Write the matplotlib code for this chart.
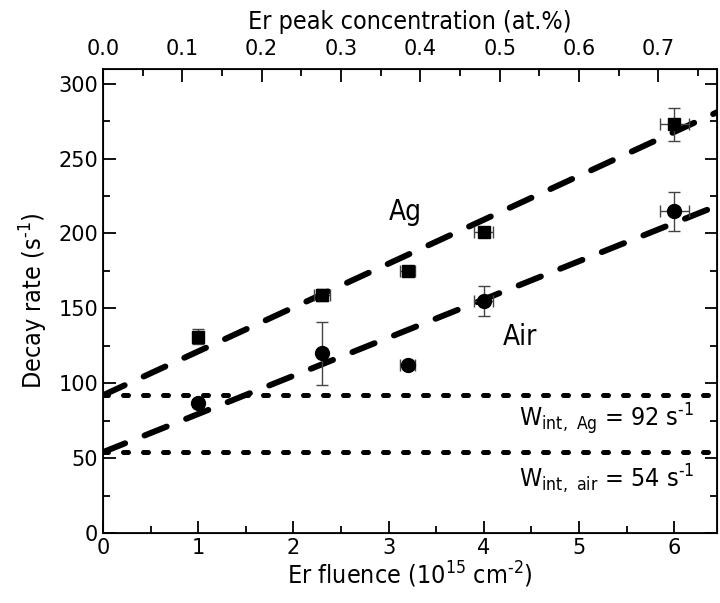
import matplotlib
matplotlib.use("Agg")
import matplotlib.pyplot as plt
import numpy as np
from matplotlib.ticker import MultipleLocator, FormatStrFormatter

plt.rcParams['font.family'] = ['DejaVu Sans']
plt.rcParams['mathtext.default'] = 'regular'

# Ag samples (squares)
ag_x = [1.0, 2.3, 3.2, 4.0, 6.0]
ag_y = [131, 159, 175, 201, 273]
ag_yerr = [5, 4, 3, 2, 11]
ag_xerr = [0.0, 0.08, 0.08, 0.1, 0.15]

# Air samples (circles)
air_x = [1.0, 2.3, 3.2, 4.0, 6.0]
air_y = [87, 120, 112, 155, 215]
air_yerr = [2, 21, 2, 10, 13]
air_xerr = [0.0, 0.0, 0.08, 0.1, 0.15]

# linear fits: intercept, slope
ag_fit = (92, 29.3)
air_fit = (54, 25.5)
w_ag = 92
w_air = 54

conc_per_fluence = 0.12
conc_ticks = [0.0, 0.1, 0.2, 0.3, 0.4, 0.5, 0.6, 0.7]

cond = 'condensed'
hy = '\u2010'

fig = plt.figure(figsize=(7.2, 6.03), dpi=100)
ax = fig.add_axes([0.143, 0.116, 0.853, 0.770])

xmax = 6.45
xx = np.array([0, xmax])
for b, m in (ag_fit, air_fit):
    ax.plot(xx, b + m * xx, color='black', lw=4.3, dashes=(4, 3.5),
            dash_capstyle='round')
for w in (w_ag, w_air):
    ax.axhline(w, color='black', lw=3.6, dashes=(1, 3), dash_capstyle='round')

ax.errorbar(ag_x, ag_y, yerr=ag_yerr, xerr=ag_xerr, fmt='s', color='black',
            ms=9, ecolor='#444444', elinewidth=1, capsize=4, capthick=1)
ax.errorbar(air_x, air_y, yerr=air_yerr, xerr=air_xerr, fmt='o', color='black',
            ms=10, ecolor='#444444', elinewidth=1, capsize=4, capthick=1)

ax.set_xlim(0, xmax)
ax.set_ylim(0, 310)
ax.xaxis.set_major_locator(MultipleLocator(1))
ax.xaxis.set_minor_locator(MultipleLocator(0.5))
ax.yaxis.set_major_locator(MultipleLocator(50))
ax.yaxis.set_minor_locator(MultipleLocator(25))
ax.tick_params(which='both', direction='in', right=True, top=False, width=1.3)
ax.tick_params(which='major', length=9, labelsize=15)
ax.tick_params(which='minor', length=5)
for s in ax.spines.values():
    s.set_linewidth(1.3)

ax.set_xlabel('Er fluence (10$^{15}$ cm$^{' + hy + '2}$)', fontsize=18,
              fontstretch=cond, labelpad=1)
ax.set_ylabel('Decay rate (s$^{' + hy + '1}$)', fontsize=18, fontstretch=cond,
              labelpad=6)

top = ax.twiny()
top.set_xlim(0, xmax * conc_per_fluence)
top.set_xticks(conc_ticks)
top.xaxis.set_minor_locator(MultipleLocator(0.05))
top.xaxis.set_major_formatter(FormatStrFormatter('%.1f'))
top.tick_params(which='both', direction='in', width=1.3, pad=7)
top.tick_params(which='major', length=9, labelsize=15)
top.tick_params(which='minor', length=5)
top.set_xlabel('Er peak concentration (at.%)', fontsize=18, fontstretch=cond,
               labelpad=7)

ax.text(3.0, 209, 'Ag', fontsize=20, fontstretch=cond, ha='left', va='baseline')
ax.text(4.2, 125.5, 'Air', fontsize=20, fontstretch=cond, ha='left', va='baseline')
ax.text(4.37, 71, 'W$_{int,\\ Ag}$ = 92 s$^{' + hy + '1}$', fontsize=18,
        fontstretch=cond, ha='left', va='baseline')
ax.text(4.37, 30.5, 'W$_{int,\\ air}$ = 54 s$^{' + hy + '1}$', fontsize=18,
        fontstretch=cond, ha='left', va='baseline')

fig.savefig('out.png', dpi=100)
